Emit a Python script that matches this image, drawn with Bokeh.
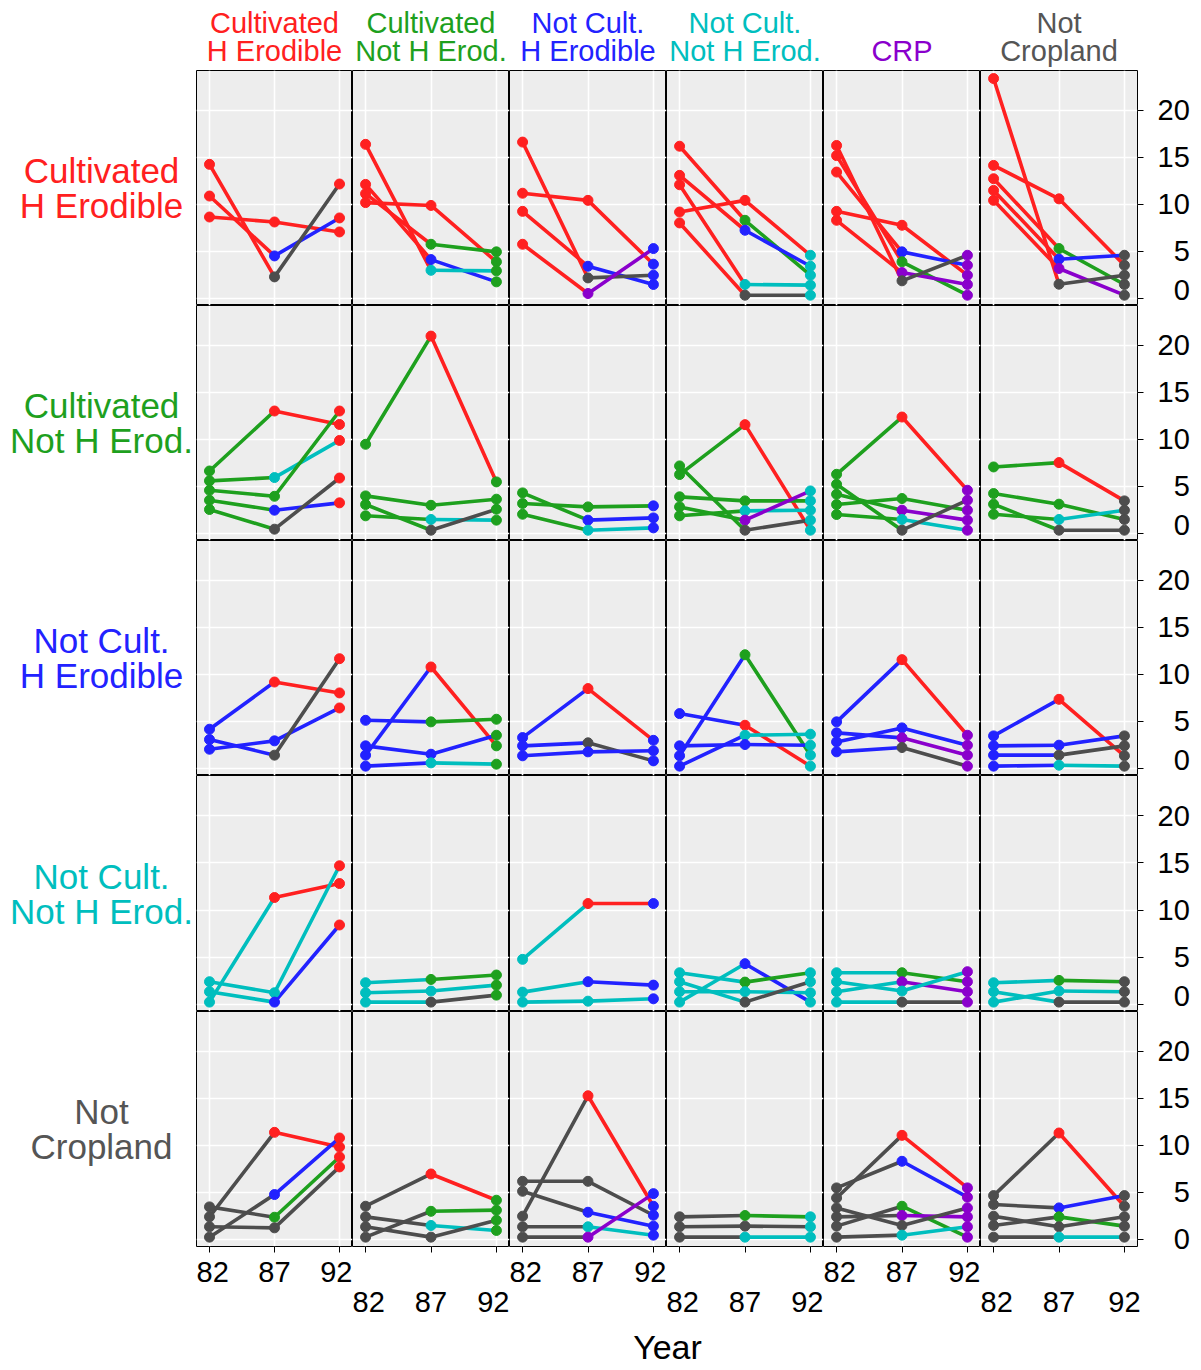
from bokeh.plotting import figure
from bokeh.layouts import gridplot, column
from bokeh.models import Range1d, LinearAxis, FixedTicker, Grid
from bokeh.core.properties import value
from bokeh.embed import file_html
from bokeh.resources import INLINE

# ---------------- data ----------------
CATEGORIES = ["Cultivated\nH Erodible", "Cultivated\nNot H Erod.", "Not Cult.\nH Erodible",
              "Not Cult.\nNot H Erod.", "CRP", "Not\nCropland"]
ROW_LABELS = ["Cultivated\nH Erodible", "Cultivated\nNot H Erod.", "Not Cult.\nH Erodible",
              "Not Cult.\nNot H Erod.", "Not\nCropland"]
COLORS = ["#FF2020", "#1EA01E", "#2222FF", "#00BEBE", "#8A00CC", "#4D4D4D"]
TEXT_COLORS = ["#FF2020", "#1EA01E", "#2222FF", "#00BEBE", "#8A00CC", "#555555"]
ROW_CATS = [0, 1, 2, 3, 5]          # category (1982) of each row
YEARS = [82, 87, 92]
Y_TICKS = [0, 5, 10, 15, 20]
X_LABEL = "Year"

# each entry: (category in 1987, value 82, value 87, value 92); one list per column
row_cult_he = [
    [(0, 8.67, 8.14, 7.08), (2, 10.9, 4.53, 8.57), (5, 14.27, 2.3, 12.18)],
    [(0, 10.2, 9.9, 3.9), (1, 11.15, 5.77, 4.96), (2, 12.14, 4.14, 1.77), (3, 16.4, 3.0, 2.94)],
    [(0, 11.2, 10.44, 3.65), (2, 9.27, 3.43, 1.49), (5, 16.64, 2.19, 2.48), (4, 5.77, 0.53, 5.31)],
    [(0, 9.2, 10.44, 4.6), (1, 16.2, 8.32, 2.48), (2, 13.1, 7.26, 3.43), (3, 12.1, 1.49, 1.42), (5, 8.04, 0.35, 0.35)],
    [(0, 9.27, 7.79, 2.48), (2, 13.45, 4.96, 3.54), (1, 15.2, 3.9, 0.35), (4, 8.32, 2.76, 1.49), (5, 16.28, 1.88, 4.6)],
    [(0, 14.16, 10.6, 3.54), (1, 12.74, 5.31, 1.49), (2, 11.5, 4.18, 4.6), (4, 10.44, 3.19, 0.35), (5, 23.4, 1.52, 2.48)],
]
row_cult_nhe = [
    [(0, 6.65, 13.03, 11.6), (3, 5.6, 5.95, 9.9), (1, 4.6, 3.96, 13.03), (2, 3.54, 2.48, 3.26), (5, 2.55, 0.46, 5.9)],
    [(0, 9.49, 21.0, 5.49), (1, 4.0, 3.0, 3.65), (3, 1.88, 1.49, 1.42), (5, 3.08, 0.35, 2.58)],
    [(1, 3.19, 2.83, 2.94), (2, 4.32, 1.42, 1.66), (3, 2.05, 0.35, 0.6)],
    [(0, 6.27, 11.58, 0.35), (1, 3.9, 3.47, 3.47), (3, 1.88, 2.41, 2.48), (4, 2.83, 1.42, 4.53), (5, 7.19, 0.35, 1.42)],
    [(0, 6.3, 12.39, 4.6), (1, 3.08, 3.72, 2.48), (4, 4.18, 2.48, 1.42), (3, 2.02, 1.49, 0.35), (5, 5.24, 0.35, 3.54)],
    [(0, 7.08, 7.54, 3.47), (1, 4.25, 3.12, 1.49), (3, 2.05, 1.49, 2.48), (5, 3.12, 0.35, 0.35)],
]
row_ncult_he = [
    [(0, 4.18, 9.2, 8.04), (2, 2.05, 2.94, 6.44), (5, 3.08, 1.42, 11.68)],
    [(0, 1.42, 10.8, 2.41), (1, 5.13, 4.96, 5.24), (2, 2.41, 1.52, 3.54), (3, 0.25, 0.6, 0.46)],
    [(0, 3.29, 8.5, 3.0), (5, 2.41, 2.73, 0.81), (2, 1.35, 1.77, 1.88)],
    [(1, 1.35, 12.1, 1.42), (0, 5.84, 4.6, 0.25), (3, 0.25, 3.54, 3.65), (2, 2.41, 2.55, 2.48)],
    [(0, 4.96, 11.58, 3.54), (2, 2.83, 4.32, 2.48), (4, 3.79, 3.26, 1.42), (5, 1.77, 2.23, 0.25)],
    [(0, 3.47, 7.36, 1.35), (2, 2.41, 2.48, 3.47), (5, 1.42, 1.42, 2.41), (3, 0.25, 0.35, 0.25)],
]
row_ncult_nhe = [
    [(0, 0.25, 11.33, 12.81), (3, 2.41, 1.24, 14.69), (2, 1.35, 0.25, 8.42)],
    [(1, 2.3, 2.65, 3.12), (3, 1.24, 1.42, 2.05), (5, 0.25, 0.25, 0.99)],
    [(0, 4.78, 10.69, 10.69), (2, 1.31, 2.41, 2.05), (3, 0.25, 0.35, 0.6)],
    [(2, 0.25, 4.32, 0.25), (1, 3.36, 2.37, 3.36), (3, 1.35, 1.35, 1.24), (5, 2.41, 0.25, 2.41)],
    [(1, 3.36, 3.36, 2.41), (4, 1.35, 2.41, 1.35), (3, 2.41, 1.42, 3.47), (5, 0.25, 0.25, 0.25)],
    [(1, 2.3, 2.55, 2.41), (3, 0.25, 1.42, 1.35), (5, 1.35, 0.25, 0.25)],
]
row_not_crop = [
    [(0, 2.41, 11.4, 9.84), (2, 0.25, 4.78, 10.8), (1, 3.47, 2.37, 8.78), (5, 1.35, 1.24, 7.72)],
    [(0, 3.54, 6.97, 4.18), (1, 0.25, 3.0, 3.12), (3, 2.41, 1.49, 0.96), (5, 1.35, 0.25, 2.05)],
    [(0, 2.48, 15.29, 3.54), (5, 6.19, 6.19, 2.58), (2, 5.13, 2.9, 1.42), (3, 1.35, 1.35, 0.46), (4, 0.25, 0.25, 4.88)],
    [(1, 2.41, 2.55, 2.41), (5, 1.35, 1.42, 1.35), (3, 0.25, 0.25, 0.25)],
    [(0, 4.42, 11.08, 5.49), (2, 5.49, 8.32, 4.5), (1, 1.42, 3.54, 0.25), (4, 2.41, 2.55, 2.41), (5, 3.36, 1.49, 3.36), (3, 0.25, 0.46, 1.35)],
    [(0, 4.67, 11.33, 3.54), (2, 3.72, 3.36, 4.67), (1, 1.49, 2.41, 1.42), (5, 2.48, 1.35, 2.41), (3, 0.25, 0.25, 0.25)],
]
ROWS = [row_cult_he, row_cult_nhe, row_ncult_he, row_ncult_nhe, row_not_crop]

# ---------------- layout constants ----------------
COL_W = [156, 157, 157, 157, 157, 157]
ROW_H = [235, 235, 235, 236, 235]
LABEL_W = 196
TITLE_H = 70
RIGHT_B = 56
BOTTOM_B = 70
FONT = "Liberation Sans"
PANEL_BG = "#EDEDED"


def base_fig(fw, fh, xr, yr, c, r, **kw):
    p = figure(frame_width=fw, frame_height=fh, x_range=xr, y_range=yr,
               x_axis_location=None, y_axis_location=None, toolbar_location=None,
               output_backend="svg", min_border=0, border_fill_color="white", **kw)
    p.min_border_left = 0
    p.min_border_top = 0
    p.min_border_right = RIGHT_B if c == 5 else 0
    p.min_border_bottom = BOTTOM_B if r == 4 else 0
    p.grid.visible = False
    return p


def panel(r, c):
    p = base_fig(COL_W[c], ROW_H[r], Range1d(81, 93), Range1d(-0.745, 24.255), c, r,
                 background_fill_color=PANEL_BG, outline_line_color="black",
                 outline_line_width=1)
    p.add_layout(Grid(dimension=0, ticker=FixedTicker(ticks=YEARS),
                      grid_line_color="white", grid_line_width=1.6))
    p.add_layout(Grid(dimension=1, ticker=FixedTicker(ticks=Y_TICKS),
                      grid_line_color="white", grid_line_width=1.6))
    data = ROWS[r][c]
    rc = COLORS[ROW_CATS[r]]
    x0, y0, x1, y1, sc = [], [], [], [], []
    px, py, pc = [], [], []
    for cat87, v82, v87, v92 in data:
        x0 += [YEARS[0], YEARS[1]]
        y0 += [v82, v87]
        x1 += [YEARS[1], YEARS[2]]
        y1 += [v87, v92]
        sc += [rc, COLORS[cat87]]
        px += YEARS
        py += [v82, v87, v92]
        pc += [rc, COLORS[cat87], COLORS[c]]
    p.segment(x0=x0, y0=y0, x1=x1, y1=y1, color=sc, line_width=3.6, line_cap="round")
    p.scatter(x=px, y=py, color=pc, size=10)
    if c == 5:
        ax = LinearAxis(ticker=FixedTicker(ticks=Y_TICKS), axis_line_color=None,
                        major_tick_out=6, major_tick_in=0, minor_tick_out=0, minor_tick_in=0,
                        major_tick_line_color="black", major_label_standoff=14,
                        major_label_text_font=FONT, major_label_text_font_size="29px",
                        major_label_text_color="black",
                        major_label_overrides={t: ("\u2007" + str(t) if t < 10 else str(t)) for t in Y_TICKS})
        p.add_layout(ax, "right")
    if r == 4:
        ax = LinearAxis(ticker=FixedTicker(ticks=YEARS), axis_line_color=None,
                        major_tick_out=6, major_tick_in=0, minor_tick_out=0, minor_tick_in=0,
                        major_tick_line_color="black",
                        major_label_standoff=9 if c % 2 == 0 else 39,
                        major_label_text_font=FONT, major_label_text_font_size="29px",
                        major_label_text_color="black")
        p.add_layout(ax, "below")
    return p


def title_fig(c):
    fw = COL_W[c]
    p = base_fig(fw, TITLE_H, Range1d(0, fw), Range1d(0, TITLE_H), c, 0,
                 outline_line_color=None, background_fill_color="white")
    p.min_border_bottom = 0
    lines = CATEGORIES[c].split("\n")
    if len(lines) == 1:
        lines = [""] + lines
    p.text(x=[fw / 2, fw / 2], y=[48, 20], text=lines, text_align="center",
           text_baseline="middle", text_font=value(FONT), text_font_size="29px",
           text_color=TEXT_COLORS[c])
    return p


def label_fig(r):
    fh = ROW_H[r]
    p = base_fig(LABEL_W, fh, Range1d(0, LABEL_W), Range1d(0, fh), 0, r,
                 outline_line_color=None, background_fill_color="white")
    lines = ROW_LABELS[r].split("\n")
    p.text(x=[101, 101], y=[fh / 2 + 17.5, fh / 2 - 17.5], text=lines, text_align="center",
           text_baseline="middle", text_font=value(FONT), text_font_size="35px",
           text_color=TEXT_COLORS[ROW_CATS[r]])
    return p


grid_rows = [[None] + [title_fig(c) for c in range(6)]]
for r in range(5):
    grid_rows.append([label_fig(r)] + [panel(r, c) for c in range(6)])

grid = gridplot(grid_rows, toolbar_location=None)

YEAR_W = LABEL_W + sum(COL_W) + RIGHT_B
YEAR_H = 52
yf = figure(frame_width=YEAR_W, frame_height=YEAR_H, x_range=Range1d(0, YEAR_W),
            y_range=Range1d(0, YEAR_H), x_axis_location=None, y_axis_location=None,
            toolbar_location=None, output_backend="svg", min_border=0,
            outline_line_color=None)
yf.grid.visible = False
yf.text(x=[667], y=[22], text=[X_LABEL], text_align="center", text_baseline="middle",
        text_font=value(FONT), text_font_size="34px", text_color="black")

layout = column(grid, yf, spacing=0)
open("out.html", "w").write(file_html(layout, INLINE))
